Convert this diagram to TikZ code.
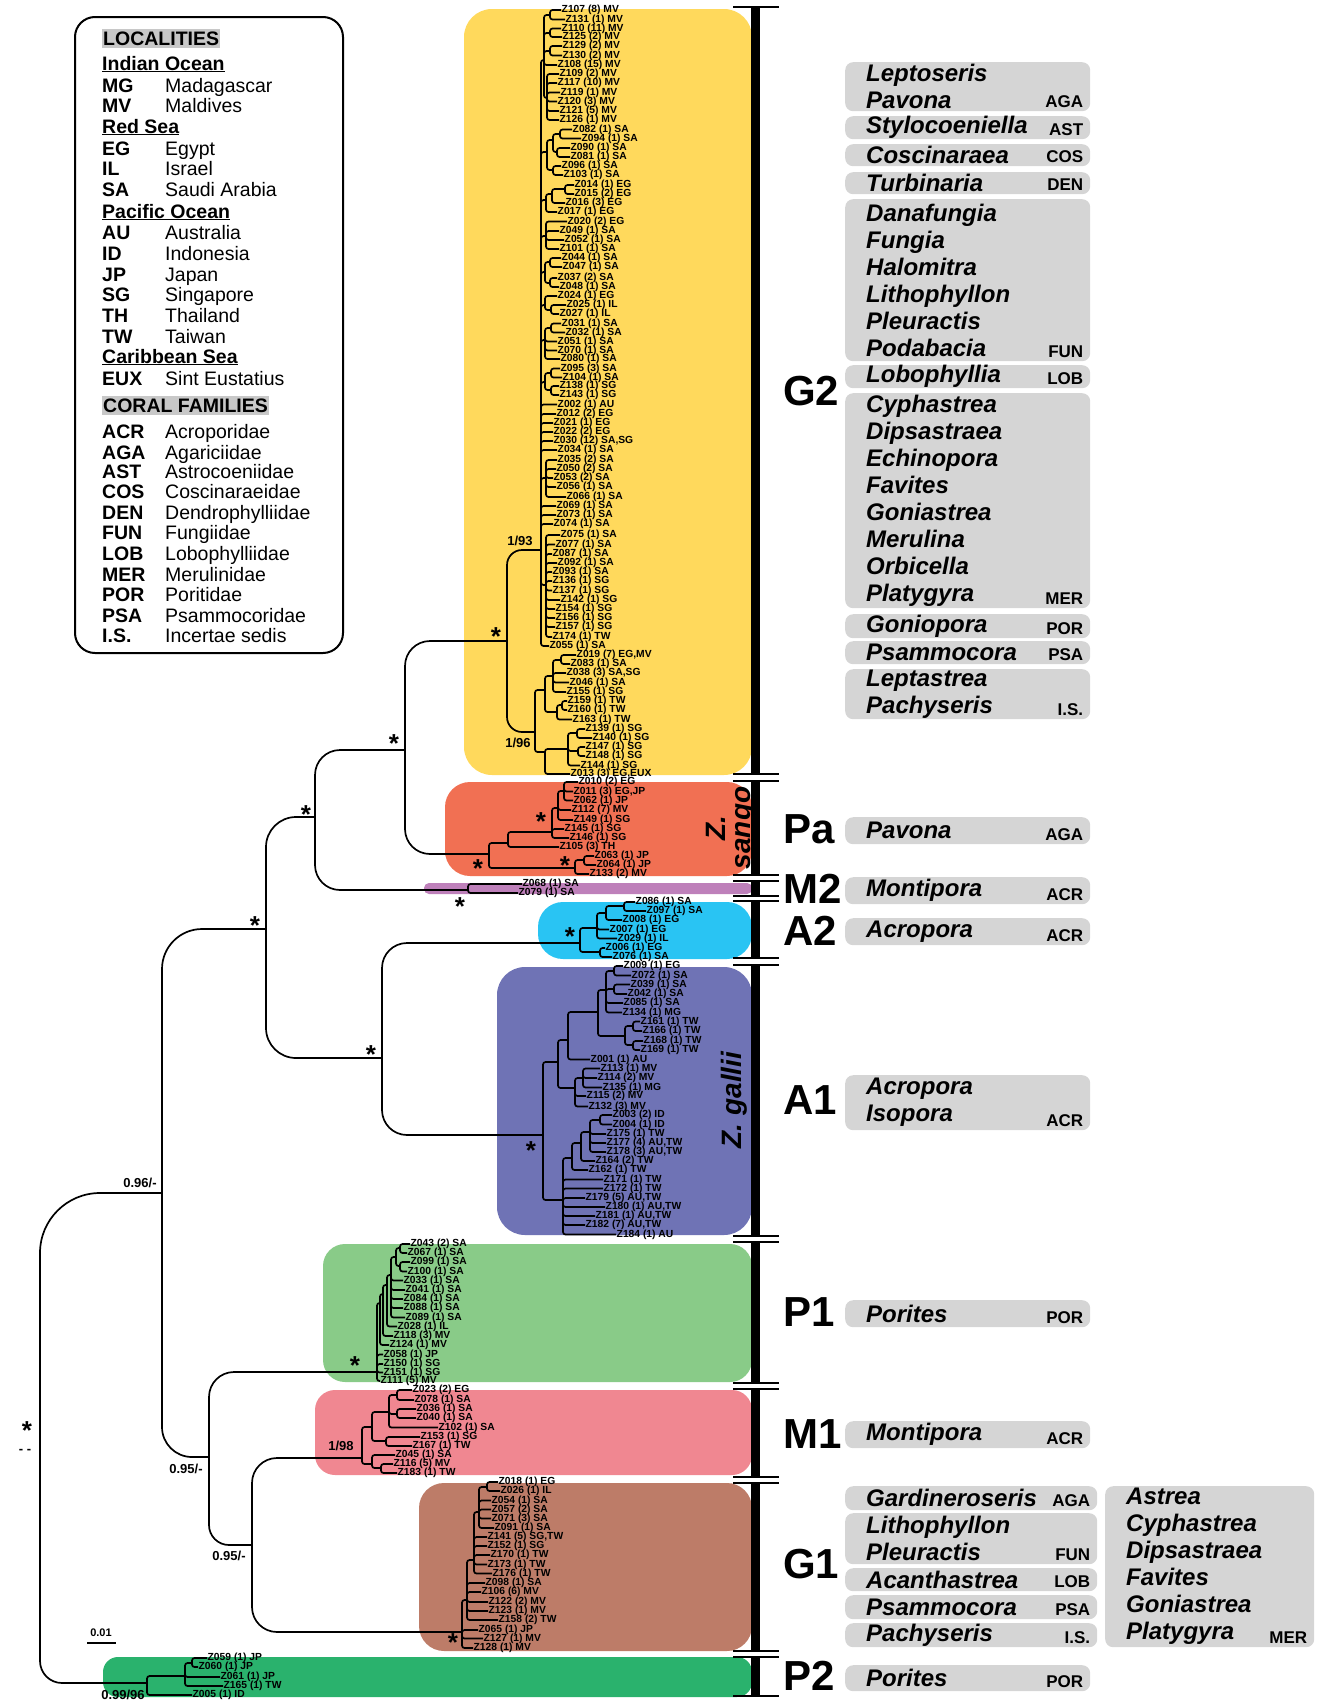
\documentclass[tikz,border=0pt]{standalone}
\usepackage{fontspec}
\setmainfont{Liberation Sans}
\usetikzlibrary{positioning}

\definecolor{cG2}{RGB}{255,217,92}
\definecolor{cPa}{RGB}{241,112,83}
\definecolor{cM2}{RGB}{190,128,186}
\definecolor{cA2}{RGB}{41,196,243}
\definecolor{cA1}{RGB}{111,115,181}
\definecolor{cP1}{RGB}{137,203,136}
\definecolor{cM1}{RGB}{240,135,145}
\definecolor{cG1}{RGB}{189,124,104}
\definecolor{cP2}{RGB}{42,178,109}
\definecolor{genbg}{RGB}{213,213,213}
\definecolor{hdrbg}{RGB}{200,200,200}

\newcommand\tipfont{\fontsize{10.3}{10.3}\selectfont\bfseries}
\newcommand\suppfont{\fontsize{13}{13}\selectfont\bfseries}
\newcommand\astfont{\fontsize{26}{26}\selectfont\bfseries}
\newcommand\grpfont{\fontsize{42}{42}\selectfont\bfseries}
\newcommand\genfont{\fontsize{24}{27}\selectfont\bfseries\itshape}
\newcommand\famfont{\fontsize{17}{17}\selectfont\bfseries}
\newcommand\legfont{\fontsize{19.5}{19.5}\selectfont}
\newcommand\cladefont{\fontsize{28}{25}\selectfont\bfseries\itshape}

\tikzset{
  tip/.style={anchor=west, inner sep=0.5pt, font=\tipfont},
  br/.style={line width=1.7pt, rounded corners=2.5pt},
  supp/.style={inner sep=0pt, font=\suppfont},
  ast/.style={inner sep=0pt, font=\astfont, yshift=-5pt},
  grp/.style={anchor=west, inner sep=0pt, font=\grpfont},
  genbox/.style={fill=genbg, rounded corners=8pt, anchor=north west, inner xsep=21pt, inner ysep=0pt, align=left, font=\genfont},
  fam/.style={anchor=base east, inner sep=0pt, font=\famfont},
  lcode/.style={anchor=base west, inner sep=0pt, font=\legfont\bfseries},
  lname/.style={anchor=base west, inner sep=0pt, font=\legfont},
  lhead/.style={anchor=base west, inner xsep=1pt, inner ysep=2.5pt, fill=hdrbg, font=\legfont\bfseries},
}

\begin{document}
\begin{tikzpicture}[x=1pt, y=-1pt]
\useasboundingbox (0,0) rectangle (1321,1703);

\fill[cG2, rounded corners=28pt] (464,9) rectangle (752,775);
\fill[cPa, rounded corners=25pt] (445,782) rectangle (752,876);
\fill[cM2, rounded corners=5pt] (424,883) rectangle (752,894);
\fill[cA2, rounded corners=25pt] (538,902) rectangle (752,959);
\fill[cA1, rounded corners=28pt] (497,967) rectangle (752,1235);
\fill[cP1, rounded corners=22pt] (323,1244) rectangle (752,1382);
\fill[cM1, rounded corners=20pt] (315,1390) rectangle (752,1475);
\fill[cG1, rounded corners=25pt] (419,1483) rectangle (752,1651);
\fill[cP2, rounded corners=15pt] (103,1657) rectangle (752,1697);

\foreach \t/\b in {7/774, 781/875, 881/896, 901/958, 965/1236, 1242/1383, 1389/1477, 1483/1651, 1657/1696}{
  \draw[line width=9pt] (755,\t) -- (755,\b);
  \draw[line width=2.5pt] (733,\t) -- (779,\t) (733,\b) -- (779,\b);
}

\foreach \nm/\lab/\x/\y in {
  Z107/{(8) MV}/561/10, Z131/{(1) MV}/565/19.5, Z110/{(11) MV}/561/28.5, Z125/{(2) MV}/562/37, Z129/{(2) MV}/562/46, Z130/{(2) MV}/562/55.5,
  Z108/{(15) MV}/557/65, Z109/{(2) MV}/559/74, Z117/{(10) MV}/557/83, Z119/{(1) MV}/560/92.5, Z120/{(3) MV}/557/101.5, Z121/{(5) MV}/559/111, Z126/{(1) MV}/559/120,
  Z082/{(1) SA}/572/129.5, Z094/{(1) SA}/581/138.5, Z090/{(1) SA}/570/148, Z081/{(1) SA}/570/157, Z096/{(1) SA}/561/166, Z103/{(1) SA}/563/175,
  Z014/{(1) EG}/574/185, Z015/{(2) EG}/574/194, Z016/{(3) EG}/565/203, Z017/{(1) EG}/557/212, Z020/{(2) EG}/567/221.5,
  Z049/{(1) SA}/559/231, Z052/{(1) SA}/564/240, Z101/{(1) SA}/559/249, Z044/{(1) SA}/561/258, Z047/{(1) SA}/562/267, Z037/{(2) SA}/557/278, Z048/{(1) SA}/559/287,
  Z024/{(1) EG}/557/296, Z025/{(1) IL}/566/305, Z027/{(1) IL}/559/314,
  Z031/{(1) SA}/561/323.5, Z032/{(1) SA}/565/332.5, Z051/{(1) SA}/557/341.5, Z070/{(1) SA}/557/350.5, Z080/{(1) SA}/560/359, Z095/{(3) SA}/560/368.5, Z104/{(1) SA}/562/377.5,
  Z138/{(1) SG}/559/386, Z143/{(1) SG}/559/395, Z002/{(1) AU}/557/404.5, Z012/{(2) EG}/556/414, Z021/{(1) EG}/553/423, Z022/{(2) EG}/553/432, Z030/{(12) SA,SG}/553/441, Z034/{(1) SA}/557/450,
  Z035/{(2) SA}/557/460, Z050/{(2) SA}/556/469, Z053/{(2) SA}/553/478, Z056/{(1) SA}/556/487, Z066/{(1) SA}/566/497, Z069/{(1) SA}/556/506, Z073/{(1) SA}/556/515, Z074/{(1) SA}/553/524,
  Z075/{(1) SA}/560/535, Z077/{(1) SA}/555/544.5, Z087/{(1) SA}/552/554, Z092/{(1) SA}/557/563, Z093/{(1) SA}/552/572, Z136/{(1) SG}/552/581, Z137/{(1) SG}/552/590.5,
  Z142/{(1) SG}/560/600, Z154/{(1) SG}/555/609, Z156/{(1) SG}/555/618, Z157/{(1) SG}/555/627, Z174/{(1) TW}/552/637, Z055/{(1) SA}/549/646,
  Z019/{(7) EG,MV}/576/655, Z083/{(1) SA}/570/664, Z038/{(3) SA,SG}/566/673, Z046/{(1) SA}/569/682.5, Z155/{(1) SG}/566/692, Z159/{(1) TW}/567/701, Z160/{(1) TW}/567/710, Z163/{(1) TW}/572/719.5,
  Z139/{(1) SG}/585/729, Z140/{(1) SG}/592/738, Z147/{(1) SG}/585/747, Z148/{(1) SG}/585/756, Z144/{(1) SG}/580/765.5, Z013/{(3) EG,EUX}/570/774,
  Z010/{(2) EG}/578/782, Z011/{(3) EG,JP}/573/791.5, Z062/{(1) JP}/573/800.5, Z112/{(7) MV}/571/810, Z149/{(1) SG}/573/820, Z145/{(1) SG}/564/829,
  Z146/{(1) SG}/569/838, Z105/{(3) TH}/559/847, Z063/{(1) JP}/594/856, Z064/{(1) JP}/596/865, Z133/{(2) MV}/589/874,
  Z068/{(1) SA}/522/884, Z079/{(1) SA}/518/893,
  Z086/{(1) SA}/635/902, Z097/{(1) SA}/646/911, Z008/{(1) EG}/622/920, Z007/{(1) EG}/609/929.5, Z029/{(1) IL}/617/938.5, Z006/{(1) EG}/605/948, Z076/{(1) SA}/612/957,
  Z009/{(1) EG}/623/966, Z072/{(1) SA}/631/975.5, Z039/{(1) SA}/630/984.5, Z042/{(1) SA}/627/994, Z085/{(1) SA}/623/1003, Z134/{(1) MG}/622/1012.5,
  Z161/{(1) TW}/640/1021.5, Z166/{(1) TW}/642/1031, Z168/{(1) TW}/643/1041, Z169/{(1) TW}/640/1050, Z001/{(1) AU}/590/1059.5,
  Z113/{(1) MV}/600/1068.5, Z114/{(2) MV}/597/1078, Z135/{(1) MG}/602/1087.5, Z115/{(2) MV}/586/1096, Z132/{(3) MV}/588/1106.5,
  Z003/{(2) ID}/612/1115, Z004/{(1) ID}/612/1124.5, Z175/{(1) TW}/606/1134, Z177/{(4) AU,TW}/606/1143, Z178/{(3) AU,TW}/606/1152, Z164/{(2) TW}/595/1161, Z162/{(1) TW}/588/1170,
  Z171/{(1) TW}/603/1179.5, Z172/{(1) TW}/603/1188.5, Z179/{(5) AU,TW}/585/1198, Z180/{(1) AU,TW}/605/1207, Z181/{(1) AU,TW}/595/1216, Z182/{(7) AU,TW}/585/1225, Z184/{(1) AU}/616/1234.5,
  Z043/{(2) SA}/410/1244, Z067/{(1) SA}/407/1253, Z099/{(1) SA}/410/1262, Z100/{(1) SA}/407/1271.5, Z033/{(1) SA}/403/1280.5, Z041/{(1) SA}/405/1290, Z084/{(1) SA}/403/1299,
  Z088/{(1) SA}/403/1308, Z089/{(1) SA}/405/1317.5, Z028/{(1) IL}/397/1326.5, Z118/{(3) MV}/393/1336, Z124/{(1) MV}/389/1345, Z058/{(1) JP}/383/1354.5, Z150/{(1) SG}/383/1364,
  Z151/{(1) SG}/383/1372.5, Z111/{(5) MV}/380/1381,
  Z023/{(2) EG}/412/1390, Z078/{(1) SA}/414/1400, Z036/{(1) SA}/416/1409, Z040/{(1) SA}/416/1418, Z102/{(1) SA}/438/1427.5, Z153/{(1) SG}/420/1437, Z167/{(1) TW}/412/1446,
  Z045/{(1) SA}/395/1455, Z116/{(5) MV}/393/1464, Z183/{(1) TW}/397/1473,
  Z018/{(1) EG}/498/1482, Z026/{(1) IL}/500/1491, Z054/{(1) SA}/491/1500.5, Z057/{(2) SA}/491/1509.5, Z071/{(3) SA}/491/1518.5, Z091/{(1) SA}/494/1528, Z141/{(5) SG,TW}/487/1537,
  Z152/{(1) SG}/487/1546, Z170/{(1) TW}/490/1555, Z173/{(1) TW}/487/1564.5, Z176/{(1) TW}/492/1573.5, Z098/{(1) SA}/485/1583, Z106/{(6) MV}/481/1592, Z122/{(2) MV}/488/1602,
  Z123/{(1) MV}/488/1611, Z158/{(2) TW}/498/1620, Z065/{(1) JP}/478/1630, Z127/{(1) MV}/483/1638.5, Z128/{(1) MV}/473/1648,
  Z059/{(1) JP}/207/1658, Z060/{(1) JP}/198/1667, Z061/{(1) JP}/220/1677, Z165/{(1) TW}/223/1686, Z005/{(1) ID}/192/1695}
  \node[tip] (\nm) at (\x,\y) {\nm~\lab};

\foreach \nm/\x/\y in {root/40/1440, N096/162/1193, n266/266/929, n315/315/817, n405/405/750, g2r/507/641, n93/541/550, n96/535/732,
  aNode/382/1058, n095a/209/1457, n095b/252/1545,
  mvA/544/60, mvp1/550/15, mvp2/550/33, mvp3/550/51, mvB/547/98, saA/547/152, saA1/553/140, saA1a/560/134, saA1b/557/152, saA2/553/170,
  egA/546/200, egA1/552/194, egA1a/565/189, saB/546/236, saC/545/272, saC1/550/262, saC2/550/283, ilA/545/305, ilA1/551/310,
  saD/545/340, saD1/551/328, saE/545/382, saE1/551/373, saE2/551/390, saF/546/478, sgA/546/585,
  gA/545/690, gA1/553/676, gA1a/561/660, gA2/557/712, gA2a/562/705, gB/545/752, gB1/568/749, gB1a/577/733, gB1b/578/751,
  par/489/854, pa1/508/843, pa3/552/832, pa4/558/808, pa5/564/791, pa2/575/868, pa6/584/860, m2r/468/890,
  a2r/580/943, a2a/597/928, a2c/606/913, a2d/624/906, a2b/600/952,
  a1r/543/1135, a1u/558/1062, a1v/568/1040, a1x/598/1012, a1y/606/990, a1y1/614/971, a1y2/614/989, a1z/625/1036, a1z1/633/1026, a1z2/633/1045,
  a1w/575/1088, a1w1/583/1078, a1l/563/1200, a1m/572/1158, a1n/581/1143, a1o/590/1132, a1p/600/1120,
  p1r/377/1372, p1a/380/1303, p1b/383/1294, p1c/387/1285, p1d/391/1275, p1e/396/1257, p1e1/400/1248, p1e2/400/1266,
  m1r/362/1458, m1a/372/1427, m1c/389/1412, m1e/397/1395, m1f/397/1414, m1d/386/1441, m1b/372/1464, m1g/381/1468,
  g1r/462/1632, g1a/467/1600, g1c/474/1560, g1d/479/1512, g1e/487/1487,
  p2r/147/1683, p2a/185/1676, p2b/192/1663}
  \coordinate (\nm) at (\x,\y);

\foreach \p/\c/\r in {root/N096/60, root/p2r/22, N096/n266/40, N096/n095a/30, n266/n315/30, n266/aNode/30, n315/n405/25, n315/m2r/25,
  n405/g2r/25, n405/par/25, aNode/a2r/25, aNode/a1r/25, g2r/n93/15, g2r/n96/15, n095a/p1r/25, n095a/n095b/20, n095b/m1r/25, n095b/g1r/25}
  \draw[br, rounded corners=\r pt] (\p) |- (\c);

\foreach \p/\c in {n93/mvA, mvA/mvp1, mvp1/Z107, mvp1/Z131, mvA/mvp2, mvp2/Z110, mvp2/Z125, mvA/mvp3, mvp3/Z129, mvp3/Z130, mvA/Z108, mvA/mvB,
  mvB/Z109, mvB/Z117, mvB/Z119, mvB/Z120, mvB/Z121, mvB/Z126,
  n93/saA, saA/saA1, saA1/saA1a, saA1a/Z082, saA1a/Z094, saA1/saA1b, saA1b/Z090, saA1b/Z081, saA/saA2, saA2/Z096, saA2/Z103,
  n93/egA, egA/egA1, egA1/egA1a, egA1a/Z014, egA1a/Z015, egA1/Z016, egA/Z017,
  n93/saB, saB/Z020, saB/Z049, saB/Z052, saB/Z101, n93/saC, saC/saC1, saC1/Z044, saC1/Z047, saC/saC2, saC2/Z037, saC2/Z048,
  n93/ilA, ilA/Z024, ilA/ilA1, ilA1/Z025, ilA1/Z027, n93/saD, saD/saD1, saD1/Z031, saD1/Z032, saD/Z051, saD/Z070, saD/Z080,
  n93/saE, saE/saE1, saE1/Z095, saE1/Z104, saE/saE2, saE2/Z138, saE2/Z143,
  n93/Z002, n93/Z012, n93/Z021, n93/Z022, n93/Z030, n93/Z034, n93/saF, saF/Z035, saF/Z050, saF/Z053, saF/Z056, saF/Z066, n93/Z069, n93/Z073, n93/Z074,
  n93/sgA, sgA/Z075, sgA/Z077, sgA/Z087, sgA/Z092, sgA/Z093, sgA/Z136, sgA/Z137, sgA/Z142, sgA/Z154, sgA/Z156, sgA/Z157, sgA/Z174, n93/Z055,
  n96/gA, gA/gA1, gA1/gA1a, gA1a/Z019, gA1a/Z083, gA1/Z038, gA1/Z046, gA1/Z155, gA/gA2, gA2/gA2a, gA2a/Z159, gA2a/Z160, gA2/Z163,
  n96/gB, gB/gB1, gB1/gB1a, gB1a/Z139, gB1a/Z140, gB1/gB1b, gB1b/Z147, gB1b/Z148, gB1/Z144, gB/Z013,
  par/pa1, pa1/pa3, pa3/pa4, pa4/pa5, pa5/Z010, pa5/Z011, pa5/Z062, pa4/Z112, pa4/Z149, pa3/Z145, pa3/Z146, pa1/Z105,
  par/pa2, pa2/pa6, pa6/Z063, pa6/Z064, pa2/Z133, m2r/Z068, m2r/Z079,
  a2r/a2a, a2a/a2c, a2c/a2d, a2d/Z086, a2d/Z097, a2c/Z008, a2a/Z007, a2a/Z029, a2r/a2b, a2b/Z006, a2b/Z076,
  a1r/a1u, a1u/a1v, a1v/a1x, a1x/a1y, a1y/a1y1, a1y1/Z009, a1y1/Z072, a1y/a1y2, a1y2/Z039, a1y2/Z042, a1y/Z085, a1y/Z134,
  a1x/a1z, a1z/a1z1, a1z1/Z161, a1z1/Z166, a1z/a1z2, a1z2/Z168, a1z2/Z169, a1v/Z001,
  a1u/a1w, a1w/a1w1, a1w1/Z113, a1w1/Z114, a1w1/Z135, a1w/Z115, a1w/Z132,
  a1r/a1l, a1l/a1m, a1m/a1n, a1n/a1o, a1o/a1p, a1p/Z003, a1p/Z004, a1o/Z175, a1o/Z177, a1o/Z178, a1n/Z164, a1m/Z162,
  a1l/Z171, a1l/Z172, a1l/Z179, a1l/Z180, a1l/Z181, a1l/Z182, a1l/Z184,
  p1r/p1a, p1r/Z058, p1r/Z150, p1r/Z151, p1r/Z111, p1a/p1b, p1a/Z124, p1b/p1c, p1b/Z118, p1c/p1d, p1c/Z028,
  p1d/p1e, p1d/Z033, p1d/Z041, p1d/Z084, p1d/Z088, p1d/Z089, p1e/p1e1, p1e1/Z043, p1e1/Z067, p1e/p1e2, p1e2/Z099, p1e2/Z100,
  m1r/m1a, m1a/m1c, m1c/m1e, m1e/Z023, m1e/Z078, m1c/m1f, m1f/Z036, m1f/Z040, m1c/Z102, m1a/m1d, m1d/Z153, m1d/Z167,
  m1r/m1b, m1b/Z045, m1b/m1g, m1g/Z116, m1g/Z183,
  g1r/g1a, g1r/Z065, g1r/Z127, g1r/Z128, g1a/g1c, g1a/Z098, g1a/Z106, g1a/Z122, g1a/Z123, g1a/Z158,
  g1c/g1d, g1c/Z141, g1c/Z152, g1c/Z170, g1c/Z173, g1c/Z176, g1d/g1e, g1e/Z018, g1e/Z026, g1d/Z054, g1d/Z057, g1d/Z071, g1d/Z091,
  p2r/p2a, p2r/Z005, p2a/p2b, p2b/Z059, p2b/Z060, p2a/Z061, p2a/Z165}
  \draw[br] (\p) |- (\c);

\foreach \x/\y [count=\i] in {496/632, 394/739, 306/810, 255/921, 371/1050, 541/817, 478/864, 565/861, 460/902, 570/932, 531/1146, 355/1361, 453/1638, 27/1426}
  \node[ast] (ast\i) at (\x,\y) {*};
\foreach \x/\y/\txt [count=\i] in {520/541/{1/93}, 518/743/{1/96}, 140/1183/{0.96/-}, 186/1469/{0.95/-}, 229/1556/{0.95/-}, 341/1446/{1/98}, 123/1695/{0.99/96}, 25/1451/{-\;-}}
  \node[supp] (sup\i) at (\x,\y) {\txt};

\draw[line width=1.6pt] (87,1643) -- (116,1643);
\node[supp, font=\fontsize{11}{11}\selectfont\bfseries] (scale) at (101,1633) {0.01};

\foreach \nm/\y in {G2/391, Pa/829, M2/889, A2/931, A1/1100, P1/1312, M1/1434, G1/1564, P2/1676}
  \node[grp] (lab\nm) at (783,\y) {\nm};
\node[rotate=90, align=center, inner sep=0pt, font=\cladefont] (sango) at (731,828) {Z.\\sango};
\node[rotate=90, inner sep=0pt, font=\cladefont] (gallii) at (734,1100) {Z. gallii};

\foreach \x/\y/\tw/\h/\txt/\fm [count=\i] in {
  845/62/203/49/{Leptoseris\\Pavona}/AGA, 845/116/203/23/{Stylocoeniella}/AST, 845/144/203/22/{Coscinaraea}/COS, 845/172/203/22/{Turbinaria}/DEN,
  845/199/203/162/{Danafungia\\Fungia\\Halomitra\\Lithophyllon\\Pleuractis\\Podabacia}/FUN, 845/365/203/23/{Lobophyllia}/LOB,
  845/393/203/215/{Cyphastrea\\Dipsastraea\\Echinopora\\Favites\\Goniastrea\\Merulina\\Orbicella\\Platygyra}/MER,
  845/614/203/24/{Goniopora}/POR, 845/641/203/23/{Psammocora}/PSA, 845/669/203/50/{Leptastrea\\Pachyseris}/I.S.,
  845/817/203/27/{Pavona}/AGA, 845/877/203/27/{Montipora}/ACR, 845/918/203/27/{Acropora}/ACR, 845/1075/203/55/{Acropora\\Isopora}/ACR,
  845/1300/203/27/{Porites}/POR, 845/1421/203/27/{Montipora}/ACR,
  845/1486/210/24/{Gardineroseris}/AGA, 845/1513/210/51/{Lithophyllon\\Pleuractis}/FUN, 845/1568/210/23/{Acanthastrea}/LOB,
  845/1595/210/24/{Psammocora}/PSA, 845/1623/210/24/{Pachyseris}/I.S.,
  1105/1486/167/161/{Astrea\\Cyphastrea\\Dipsastraea\\Favites\\Goniastrea\\Platygyra}/MER, 845/1665/203/26/{Porites}/POR}{
  \node[genbox, text width=\tw pt, minimum height=\h pt] (gen\i) at (\x,\y) {\txt};
  \node[fam] (fam\i) at ([xshift=-7pt, yshift=4pt]gen\i.south east) {\fm};
}

\node[draw, line width=2pt, rounded corners=20pt, anchor=north west, minimum width=268pt, minimum height=636pt] (legend) at (74,16) {};
\node[lhead] (hloc) at (102,45) {LOCALITIES};
\node[lhead] (hfam) at (102,412) {CORAL FAMILIES};
\foreach \txt/\y [count=\i] in {Indian Ocean/70, Red Sea/133, Pacific Ocean/218, Caribbean Sea/363}
  \node[lcode] (sea\i) at (102,\y) {\underline{\txt}};
\foreach \c/\nm/\y [count=\i] in {MG/Madagascar/92, MV/Maldives/112, EG/Egypt/155, IL/Israel/175, SA/Saudi Arabia/196, AU/Australia/239,
  ID/Indonesia/260, JP/Japan/281, SG/Singapore/301, TH/Thailand/322, TW/Taiwan/343, EUX/Sint Eustatius/385,
  ACR/Acroporidae/438, AGA/Agariciidae/459, AST/Astrocoeniidae/478, COS/Coscinaraeidae/498, DEN/Dendrophylliidae/519, FUN/Fungiidae/539,
  LOB/Lobophylliidae/560, MER/Merulinidae/581, POR/Poritidae/601, PSA/Psammocoridae/622, I.S./Incertae sedis/642}{
  \node[lcode] (lc\i) at (102,\y) {\c};
  \node[lname] (ln\i) at (165,\y) {\nm};
}
\end{tikzpicture}
\end{document}
